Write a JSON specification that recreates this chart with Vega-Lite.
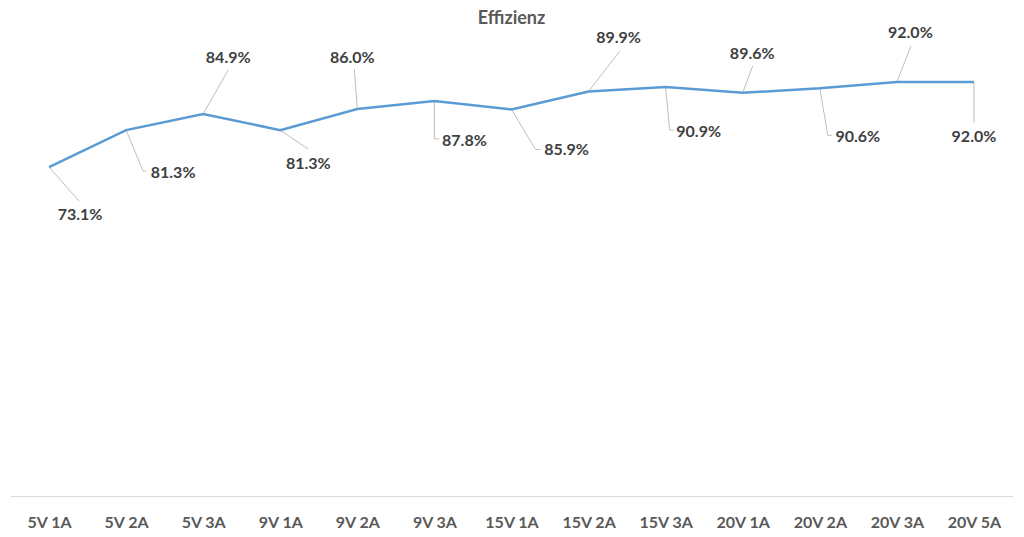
{
  "$schema": "https://vega.github.io/schema/vega-lite/v6.json",
  "width": 1002,
  "height": 450,
  "autosize": "none",
  "padding": {"left": 10.5, "top": 46, "right": 11.5, "bottom": 41},
  "background": "white",
  "config": {"view": {"stroke": null}},
  "title": {"text": "Effizienz", "font": "Lato", "fontSize": 18, "fontWeight": "bold", "color": "#595959", "anchor": "middle", "offset": -3},
  "params": [
    {"name": "cats", "value": ["5V 1A","5V 2A","5V 3A","9V 1A","9V 2A","9V 3A","15V 1A","15V 2A","15V 3A","20V 1A","20V 2A","20V 3A","20V 5A"]},
    {"name": "ldx", "value": [31, 47, 25, 28, -5, 30, 55, 30, 33, 9.5, 38, 13.5, 0]},
    {"name": "ldy", "value": [48, 42.5, -56, 34, -51, 40, 40.5, -53, 45, -39, 48.5, -49, 55]},
    {"name": "lpath", "value": ["M0,0L30,34", "M0,0L17,41L20,41", "M0,0L25,-44", "M0,0L28,19", "M0,0L-3,-40", "M0,0L0,38L5,38", "M0,0L24,40L29,40", "M0,0L31,-40", "M0,0L4,43L8,43", "M0,0L10,-27", "M0,0L8,47L12,47", "M0,0L14,-36", "M0,0L0,41"]}
  ],
  "data": {"values": [
    {"Kategorie": "5V 1A", "Effizienz": 0.731},
    {"Kategorie": "5V 2A", "Effizienz": 0.813},
    {"Kategorie": "5V 3A", "Effizienz": 0.849},
    {"Kategorie": "9V 1A", "Effizienz": 0.813},
    {"Kategorie": "9V 2A", "Effizienz": 0.860},
    {"Kategorie": "9V 3A", "Effizienz": 0.878},
    {"Kategorie": "15V 1A", "Effizienz": 0.859},
    {"Kategorie": "15V 2A", "Effizienz": 0.899},
    {"Kategorie": "15V 3A", "Effizienz": 0.909},
    {"Kategorie": "20V 1A", "Effizienz": 0.896},
    {"Kategorie": "20V 2A", "Effizienz": 0.906},
    {"Kategorie": "20V 3A", "Effizienz": 0.920},
    {"Kategorie": "20V 5A", "Effizienz": 0.920}
  ]},
  "encoding": {
    "x": {"field": "Kategorie", "type": "ordinal", "sort": null,
      "scale": {"type": "point", "padding": 0.5},
      "axis": {"title": null, "labelAngle": 0, "ticks": false, "grid": false, "domainColor": "#D9D9D9", "domainWidth": 1,
        "labelFont": "Lato", "labelFontSize": 16, "labelFontWeight": "bold", "labelColor": "#595959", "labelPadding": 18}},
    "y": {"field": "Effizienz", "type": "quantitative", "scale": {"domain": [0, 1], "nice": false, "zero": true}, "axis": null}
  },
  "layer": [
    {"mark": {"type": "point", "filled": false, "size": 4, "opacity": 1, "stroke": "#BFBFBF", "strokeWidth": 1,
      "shape": {"expr": "lpath[indexof(cats, datum.Kategorie)]"}}},
    {"mark": {"type": "line", "color": "#5B9BD5", "strokeWidth": 2.5}},
    {"mark": {"type": "text", "font": "Lato", "fontSize": 16, "fontWeight": "bold", "color": "#404040", "baseline": "middle", "align": "center",
      "dx": {"expr": "ldx[indexof(cats, datum.Kategorie)]"},
      "dy": {"expr": "ldy[indexof(cats, datum.Kategorie)]"}},
      "encoding": {"text": {"field": "Effizienz", "format": ".1%"}}}
  ]
}
